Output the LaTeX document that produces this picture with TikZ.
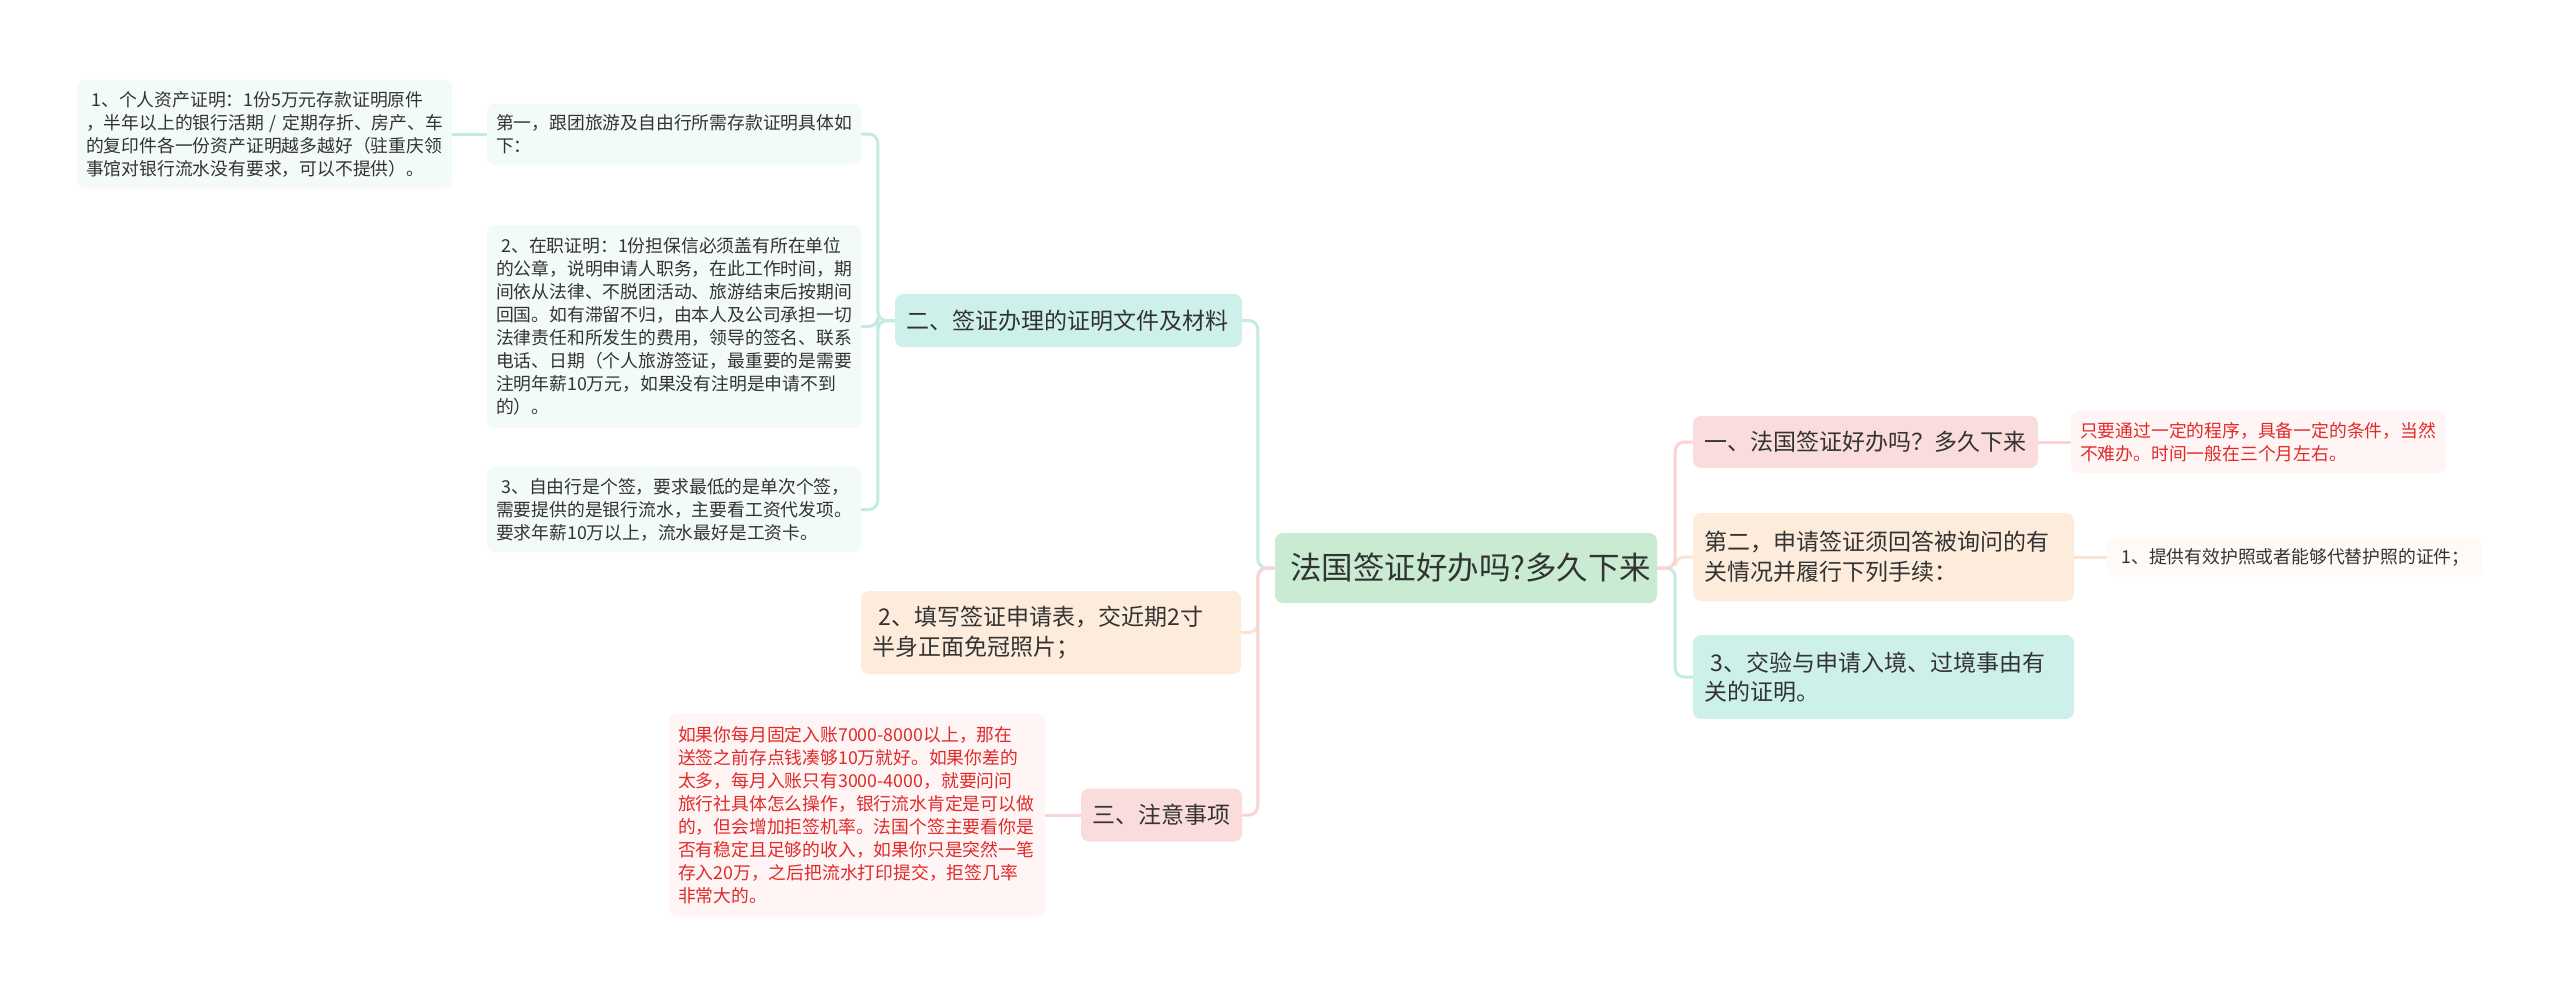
\documentclass[tikz,border=0pt]{standalone}
\usepackage{fontspec}
\setmainfont{Noto Sans CJK SC}
\definecolor{txt}{HTML}{333333}
\definecolor{redtxt}{HTML}{E02A2A}
\definecolor{rootfill}{HTML}{C8EBD1}
\definecolor{pinkfill}{HTML}{FBDCDC}
\definecolor{peachfill}{HTML}{FDECDC}
\definecolor{tealfill}{HTML}{CEF0EA}
\definecolor{ltteal}{HTML}{F3FAFA}
\definecolor{ltpink}{HTML}{FFF5F5}
\definecolor{ltpeach}{HTML}{FFFAF6}
\definecolor{tealline}{HTML}{C3EBE4}
\definecolor{pinkline}{HTML}{F8D4D4}
\definecolor{peachline}{HTML}{FBE3CF}
\tikzset{
  box/.style={rounded corners=8pt, align=left, text=txt, inner xsep=10pt, inner ysep=0pt},
  rootbox/.style={box, fill=rootfill, font=\fontsize{31.5}{38}\selectfont, inner xsep=15pt},
  lvone/.style={box, font=\fontsize{23}{29.5}\selectfont, inner xsep=11pt},
  lvtwo/.style={box, font=\fontsize{17.8}{23}\selectfont, inner xsep=9pt},
  conn/.style={line width=3pt, rounded corners=9pt},
}
\begin{document}
\begin{tikzpicture}[x=1pt,y=-1pt]
\fill[white] (0,0) rectangle (2560,993);
\useasboundingbox (0,0) rectangle (2560,993);

% root
\node[rootbox, minimum width=382pt, minimum height=70pt, text width=352pt] (root) at (1466,568) {法国签证好办吗?多久下来};

% right side
\node[lvone, fill=pinkfill, minimum width=345pt, minimum height=52pt, text width=323pt] (a1) at (1865.5,442) {一、法国签证好办吗？多久下来};
\node[lvtwo, fill=ltpink, text=redtxt, minimum width=375pt, minimum height=62pt, text width=357pt] (a1c) at (2258.5,442) {只要通过一定的程序，具备一定的条件，当然\\不难办。时间一般在三个月左右。};
\node[lvone, fill=peachfill, minimum width=381pt, minimum height=88pt, text width=359pt] (a2) at (1883.5,557) {第二，申请签证须回答被询问的有\\关情况并履行下列手续：};
\node[lvtwo, fill=ltpeach, minimum width=375pt, minimum height=39pt, text width=357pt] (a2c) at (2294.5,557) {\hspace{0.3em}1、提供有效护照或者能够代替护照的证件；};
\node[lvone, fill=tealfill, minimum width=381pt, minimum height=84pt, text width=359pt] (a3) at (1883.5,677) {\hspace{0.3em}3、交验与申请入境、过境事由有\\关的证明。};

% left side
\node[lvone, fill=tealfill, minimum width=347pt, minimum height=53pt, text width=325pt] (b1) at (1068.5,320.5) {二、签证办理的证明文件及材料};
\node[lvone, fill=peachfill, minimum width=380pt, minimum height=83pt, text width=358pt] (b2) at (1051,632.5) {\hspace{0.3em}2、填写签证申请表，交近期2寸\\半身正面免冠照片；};
\node[lvone, fill=pinkfill, minimum width=161pt, minimum height=53pt, text width=139pt] (b3) at (1161.5,815) {三、注意事项};

\node[lvtwo, fill=ltpink, text=redtxt, minimum width=376pt, minimum height=203pt, text width=358pt] (e1) at (857,815) {如果你每月固定入账7000-8000以上，那在\\送签之前存点钱凑够10万就好。如果你差的\\太多，每月入账只有3000-4000，就要问问\\旅行社具体怎么操作，银行流水肯定是可以做\\的，但会增加拒签机率。法国个签主要看你是\\否有稳定且足够的收入，如果你只是突然一笔\\存入20万，之后把流水打印提交，拒签几率\\非常大的。};

\node[lvtwo, fill=ltteal, minimum width=374pt, minimum height=61pt, text width=356pt] (c1) at (674,134) {第一，跟团旅游及自由行所需存款证明具体如\\下：};
\node[lvtwo, fill=ltteal, minimum width=375pt, minimum height=109pt, text width=357pt] (d1) at (264.5,134) {\hspace{0.3em}1、个人资产证明：1份5万元存款证明原件\\，半年以上的银行活期~/~定期存折、房产、车\\的复印件各一份资产证明越多越好（驻重庆领\\事馆对银行流水没有要求，可以不提供）。};
\node[lvtwo, fill=ltteal, minimum width=374pt, minimum height=203pt, text width=356pt] (c2) at (674,326.5) {\hspace{0.3em}2、在职证明：1份担保信必须盖有所在单位\\的公章，说明申请人职务，在此工作时间，期\\间依从法律、不脱团活动、旅游结束后按期间\\回国。如有滞留不归，由本人及公司承担一切\\法律责任和所发生的费用，领导的签名、联系\\电话、日期（个人旅游签证，最重要的是需要\\注明年薪10万元，如果没有注明是申请不到\\的）。};
\node[lvtwo, fill=ltteal, minimum width=374pt, minimum height=85pt, text width=356pt] (c3) at (674,509.5) {\hspace{0.3em}3、自由行是个签，要求最低的是单次个签，\\需要提供的是银行流水，主要看工资代发项。\\要求年薪10万以上，流水最好是工资卡。};

% connectors right
\draw[conn, draw=tealline] (root.east) -- ++(18pt,0) |- (a3.west);
\draw[conn, draw=peachline] (root.east) -- ++(18pt,0) |- (a2.west);
\draw[conn, draw=pinkline] (root.east) -- ++(18pt,0) |- (a1.west);
\draw[line width=3pt, draw=pinkline] (a1.east) -- (a1c.west);
\draw[line width=3pt, draw=peachline] (a2.east) -- (a2c.west);

% connectors left
\draw[conn, draw=tealline] (root.west) -- ++(-17pt,0) |- (b1.east);
\draw[conn, draw=peachline] (root.west) -- ++(-17pt,0) |- (b2.east);
\draw[conn, draw=pinkline] (root.west) -- ++(-17pt,0) |- (b3.east);
\draw[line width=3pt, draw=pinkline] (b3.west) -- (e1.east);
\draw[conn, draw=tealline] (b1.west) -- ++(-17pt,0) |- (c1.east);
\draw[conn, draw=tealline] (b1.west) -- ++(-17pt,0) |- (c2.east);
\draw[conn, draw=tealline] (b1.west) -- ++(-17pt,0) |- (c3.east);
\draw[line width=3pt, draw=tealline] (c1.west) -- (d1.east);
\end{tikzpicture}
\end{document}
